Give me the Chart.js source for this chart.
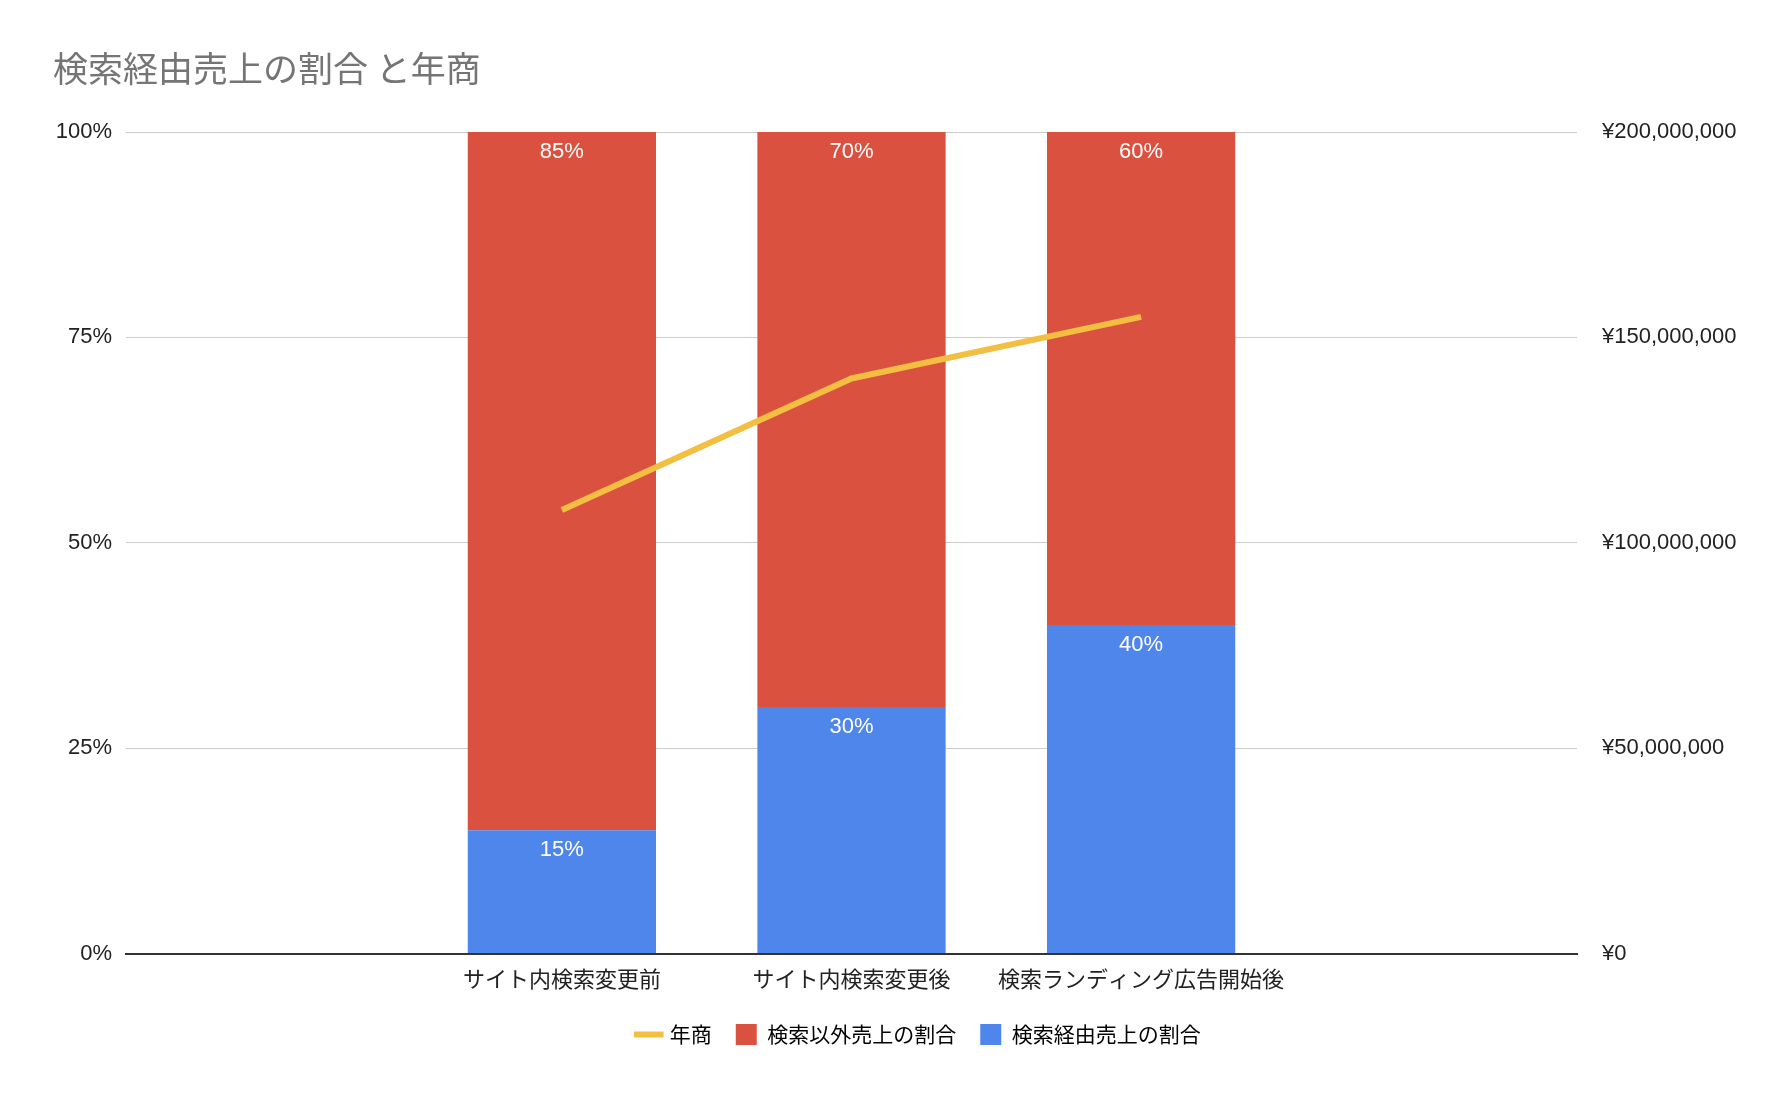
<!DOCTYPE html>
<html><head><meta charset="utf-8">
<script src="https://cdn.jsdelivr.net/npm/chart.js@4"></script>
<style>body{margin:0;background:#fff}</style>
</head><body>
<canvas id="c" width="1786" height="1100"></canvas>
<script>
const categories = ['サイト内検索変更前', 'サイト内検索変更後', '検索ランディング広告開始後'];
const searchShare = [15, 30, 40];
const otherShare = [85, 70, 60];
const annualSales = [108000000, 140000000, 155000000];
const pctTicks = [0, 25, 50, 75, 100];

const FONT = "'Liberation Sans', 'Noto Sans CJK JP', sans-serif";
const CJK = "'Noto Sans CJK JP', sans-serif";

// bars and line sit on a numeric x axis so the categories keep the side margins
const toPoints = arr => arr.map((v, i) => ({ x: i, y: v }));

// Draws the percentage labels near the top of each bar segment
const barLabels = {
    id: 'barLabels',
    afterDatasetsDraw(chart) {
        const ctx = chart.ctx;
        ctx.save();
        ctx.fillStyle = '#fff';
        ctx.font = '22px ' + FONT;
        ctx.textAlign = 'center';
        ctx.textBaseline = 'top';
        [0, 1].forEach(i => {
            chart.getDatasetMeta(i).data.forEach((bar, j) => {
                ctx.fillText(chart.data.datasets[i].data[j].y + '%', bar.x, bar.y + 9);
            });
        });
        ctx.restore();
    }
};

new Chart(document.getElementById('c').getContext('2d'), {
    type: 'bar',
    data: {
        datasets: [
            { label: '検索経由売上の割合', data: toPoints(searchShare), backgroundColor: '#4f86ec', yAxisID: 'y', order: 2 },
            { label: '検索以外売上の割合', data: toPoints(otherShare), backgroundColor: '#db5140', yAxisID: 'y', order: 2 },
            { label: '年商', type: 'line', data: toPoints(annualSales), borderColor: '#f2bf42', backgroundColor: '#f2bf42',
              borderWidth: 6, pointRadius: 0, yAxisID: 'y1', order: 1 }
        ]
    },
    plugins: [barLabels],
    options: {
        responsive: false,
        animation: false,
        layout: { padding: { top: 20, left: 53, right: 0, bottom: 45 } },
        datasets: { bar: { categoryPercentage: 0.65, barPercentage: 1 } },
        plugins: {
            title: {
                display: true, text: '検索経由売上の割合 と年商', align: 'start',
                color: '#757575', font: { family: CJK, size: 35, weight: 'normal' }, padding: { top: 28, bottom: 42 }
            },
            legend: {
                position: 'bottom', reverse: true,
                labels: {
                    font: { family: CJK, size: 21 }, color: '#222', padding: 24,
                    boxWidth: 23, boxHeight: 23, usePointStyle: true,
                    generateLabels(chart) {
                        return chart.data.datasets.map((ds, i) => ({
                            text: ds.label, fillStyle: ds.backgroundColor, strokeStyle: ds.backgroundColor,
                            lineWidth: ds.type === 'line' ? 6 : 0,
                            pointStyle: ds.type === 'line' ? 'line' : 'rect', datasetIndex: i
                        }));
                    }
                }
            },
            tooltip: { enabled: false }
        },
        scales: {
            x: {
                type: 'linear', stacked: true, min: -0.67, max: 2.67,
                afterBuildTicks(s) { s.ticks = categories.map((c, i) => ({ value: i })); },
                grid: { display: false },
                border: { color: '#333', width: 2 },
                ticks: { font: { family: FONT, size: 22 }, color: '#222', padding: 6,
                         callback: v => categories[v] }
            },
            y: {
                stacked: true, min: 0, max: 100,
                afterBuildTicks(s) { s.ticks = pctTicks.map(v => ({ value: v })); },
                afterFit(s) { s.width = 73; },
                grid: { color: '#cccccc', drawTicks: false },
                border: { display: false },
                ticks: { font: { family: FONT, size: 22 }, color: '#222', padding: 14, callback: v => v + '%' }
            },
            y1: {
                position: 'right', min: 0, max: 200000000,
                afterFit(s) { s.width = 209; },
                grid: { display: false },
                border: { display: false },
                ticks: { stepSize: 50000000, font: { family: FONT, size: 22 }, color: '#222', padding: 17,
                         callback: v => '¥' + v.toLocaleString('en-US') }
            }
        }
    }
});
</script>
</body></html>
